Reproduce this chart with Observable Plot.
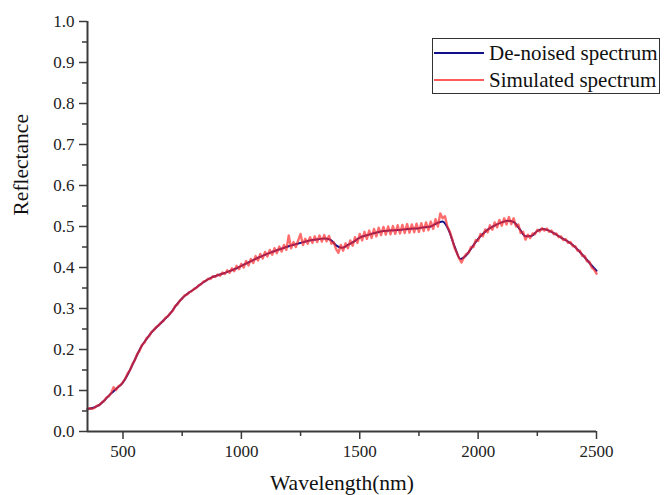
<!DOCTYPE html>
<html>
<head>
<meta charset="utf-8">
<script src="https://cdn.jsdelivr.net/npm/d3@7"></script>
<script src="https://cdn.jsdelivr.net/npm/@observablehq/plot@0.6"></script>
<style>
  body { margin: 0; background: #fff; }
  #wrap { position: relative; width: 664px; height: 495px; overflow: hidden; font-family: "Liberation Serif", "Times New Roman", serif; }
  #legend { position: absolute; left: 432px; top: 38px; width: 226px; height: 54px; border: 1px solid #333; background: #fff; }
  .row { position: absolute; left: 0; height: 24px; display: flex; align-items: center; font-size: 21px; color: #111; white-space: nowrap; }
  .row svg { margin-right: 5px; }
</style>
</head>
<body>
<div id="wrap"></div>
<script>
// De-noised spectrum (25 nm steps)
const denoisedWl = [350,375,400,425,450,475,500,525,550,575,600,625,650,675,700,725,750,775,800,825,850,875,900,925,950,975,1000,1025,1050,1075,1100,1125,1150,1175,1200,1225,1250,1275,1300,1325,1350,1375,1400,1425,1450,1475,1500,1525,1550,1575,1600,1625,1650,1675,1700,1725,1750,1775,1800,1825,1850,1875,1900,1925,1950,1975,2000,2025,2050,2075,2100,2125,2150,2175,2200,2225,2250,2275,2300,2325,2350,2375,2400,2425,2450,2475,2500];
const denoisedR = [0.055,0.058,0.065,0.078,0.093,0.106,0.120,0.145,0.175,0.205,0.226,0.245,0.259,0.273,0.288,0.308,0.325,0.337,0.347,0.358,0.368,0.376,0.381,0.386,0.391,0.397,0.404,0.411,0.418,0.425,0.431,0.437,0.442,0.447,0.452,0.456,0.460,0.464,0.467,0.469,0.471,0.468,0.454,0.448,0.455,0.463,0.473,0.478,0.482,0.486,0.489,0.490,0.491,0.492,0.494,0.495,0.496,0.498,0.500,0.508,0.512,0.492,0.452,0.421,0.430,0.450,0.470,0.485,0.496,0.504,0.510,0.514,0.511,0.494,0.476,0.477,0.489,0.494,0.490,0.482,0.473,0.465,0.455,0.441,0.425,0.408,0.392];

// Simulated (noisy) spectrum (10 nm steps)
const simulatedWl = [350,360,370,380,390,400,410,420,430,440,450,460,470,480,490,500,510,520,530,540,550,560,570,580,590,600,610,620,630,640,650,660,670,680,690,700,710,720,730,740,750,760,770,780,790,800,810,820,830,840,850,860,870,880,890,900,910,920,930,940,950,960,970,980,990,1000,1010,1020,1030,1040,1050,1060,1070,1080,1090,1100,1110,1120,1130,1140,1150,1160,1170,1180,1190,1200,1210,1220,1230,1240,1250,1260,1270,1280,1290,1300,1310,1320,1330,1340,1350,1360,1370,1380,1390,1400,1410,1420,1430,1440,1450,1460,1470,1480,1490,1500,1510,1520,1530,1540,1550,1560,1570,1580,1590,1600,1610,1620,1630,1640,1650,1660,1670,1680,1690,1700,1710,1720,1730,1740,1750,1760,1770,1780,1790,1800,1810,1820,1830,1840,1850,1860,1870,1880,1890,1900,1910,1920,1930,1940,1950,1960,1970,1980,1990,2000,2010,2020,2030,2040,2050,2060,2070,2080,2090,2100,2110,2120,2130,2140,2150,2160,2170,2180,2190,2200,2210,2220,2230,2240,2250,2260,2270,2280,2290,2300,2310,2320,2330,2340,2350,2360,2370,2380,2390,2400,2410,2420,2430,2440,2450,2460,2470,2480,2490,2500];
const simulatedR = [0.054,0.057,0.055,0.058,0.063,0.064,0.071,0.074,0.083,0.086,0.094,0.108,0.101,0.110,0.113,0.121,0.129,0.142,0.150,0.165,0.174,0.189,0.197,0.211,0.216,0.228,0.232,0.243,0.247,0.255,0.258,0.266,0.269,0.278,0.281,0.289,0.294,0.306,0.310,0.319,0.324,0.332,0.334,0.340,0.342,0.348,0.350,0.357,0.359,0.366,0.367,0.373,0.372,0.379,0.377,0.383,0.380,0.388,0.384,0.393,0.387,0.398,0.391,0.404,0.396,0.409,0.400,0.416,0.405,0.421,0.411,0.428,0.417,0.433,0.422,0.438,0.427,0.443,0.431,0.447,0.435,0.451,0.439,0.455,0.443,0.478,0.447,0.462,0.450,0.466,0.482,0.455,0.470,0.458,0.474,0.460,0.476,0.462,0.478,0.463,0.479,0.464,0.477,0.458,0.462,0.445,0.436,0.455,0.441,0.459,0.447,0.466,0.453,0.474,0.460,0.482,0.466,0.487,0.470,0.490,0.472,0.494,0.476,0.497,0.479,0.499,0.480,0.500,0.481,0.501,0.482,0.503,0.483,0.504,0.484,0.506,0.485,0.505,0.486,0.507,0.487,0.508,0.489,0.510,0.491,0.512,0.494,0.518,0.500,0.532,0.520,0.525,0.500,0.488,0.470,0.448,0.436,0.422,0.412,0.425,0.433,0.436,0.450,0.450,0.467,0.465,0.482,0.476,0.493,0.486,0.503,0.492,0.510,0.498,0.516,0.502,0.520,0.505,0.523,0.506,0.520,0.500,0.505,0.484,0.487,0.468,0.480,0.472,0.483,0.481,0.492,0.488,0.496,0.490,0.495,0.487,0.490,0.481,0.483,0.474,0.476,0.467,0.469,0.460,0.462,0.452,0.452,0.441,0.441,0.428,0.428,0.415,0.414,0.400,0.395,0.385];

// Axis ticks
const xMajor = [500, 1000, 1500, 2000, 2500];
const xMinor = [750, 1250, 1750, 2250];
const yMajor = [0, 0.1, 0.2, 0.3, 0.4, 0.5, 0.6, 0.7, 0.8, 0.9, 1.0];
const yMinor = [0.05, 0.15, 0.25, 0.35, 0.45, 0.55, 0.65, 0.75, 0.85, 0.95];

const denoised = denoisedWl.map((w, i) => ({w, r: denoisedR[i]}));
const simulated = simulatedWl.map((w, i) => ({w, r: simulatedR[i]}));

const serif = "Liberation Serif";
const axisColor = "#3a3a3a";
const chart = Plot.plot({
  width: 664,
  height: 495,
  marginLeft: 87,
  marginRight: 68,
  marginTop: 21,
  marginBottom: 64,
  style: {fontFamily: "'Liberation Serif', 'Times New Roman', serif", fontSize: "17px", color: "#222", background: "#fff"},
  x: {domain: [350, 2500]},
  y: {domain: [0, 1]},
  marks: [
    Plot.line(denoised, {x: "w", y: "r", stroke: "#10108a", strokeWidth: 2, curve: "monotone-x"}),
    Plot.line(simulated, {x: "w", y: "r", stroke: "#ff2a2a", strokeWidth: 2.4, strokeOpacity: 0.68}),
    Plot.axisX({ticks: xMajor, tickSize: 8, tickPadding: 5, tickFormat: d => String(d), label: null, stroke: axisColor, strokeWidth: 1.5, fontFamily: serif, fontSize: 17, fill: "#222"}),
    Plot.axisX({ticks: xMinor, tickSize: 5, tickFormat: () => "", label: null, stroke: axisColor, strokeWidth: 1.5}),
    Plot.axisY({ticks: yMajor, tickSize: 8, tickPadding: 5, tickFormat: d3.format(".1f"), label: null, stroke: axisColor, strokeWidth: 1.5, fontFamily: serif, fontSize: 17, fill: "#222"}),
    Plot.axisY({ticks: yMinor, tickSize: 5, tickFormat: () => "", label: null, stroke: axisColor, strokeWidth: 1.5}),
    Plot.ruleX([350], {stroke: axisColor, strokeWidth: 2}),
    Plot.ruleY([0], {stroke: axisColor, strokeWidth: 2}),
    Plot.text(["Reflectance"], {frameAnchor: "left", dx: -66, dy: -11, rotate: -90, fontSize: 21.5, fontFamily: serif, fill: "#111"}),
    Plot.text(["Wavelength(nm)"], {frameAnchor: "bottom", dy: 58, fontSize: 21.5, fontFamily: serif, fill: "#111"})
  ]
});

const wrap = document.getElementById("wrap");
wrap.appendChild(chart);

const legendItems = [
  {label: "De-noised spectrum", color: "#10108a", top: 2},
  {label: "Simulated spectrum", color: "#ff5a5a", top: 29}
];
const legend = document.createElement("div");
legend.id = "legend";
for (const it of legendItems) {
  const row = document.createElement("div");
  row.className = "row";
  row.style.top = it.top + "px";
  row.innerHTML = `<svg width="51" height="4"><line x1="1" x2="51" y1="2" y2="2" stroke="${it.color}" stroke-width="2"/></svg><span>${it.label}</span>`;
  legend.appendChild(row);
}
wrap.appendChild(legend);
</script>
</body>
</html>
